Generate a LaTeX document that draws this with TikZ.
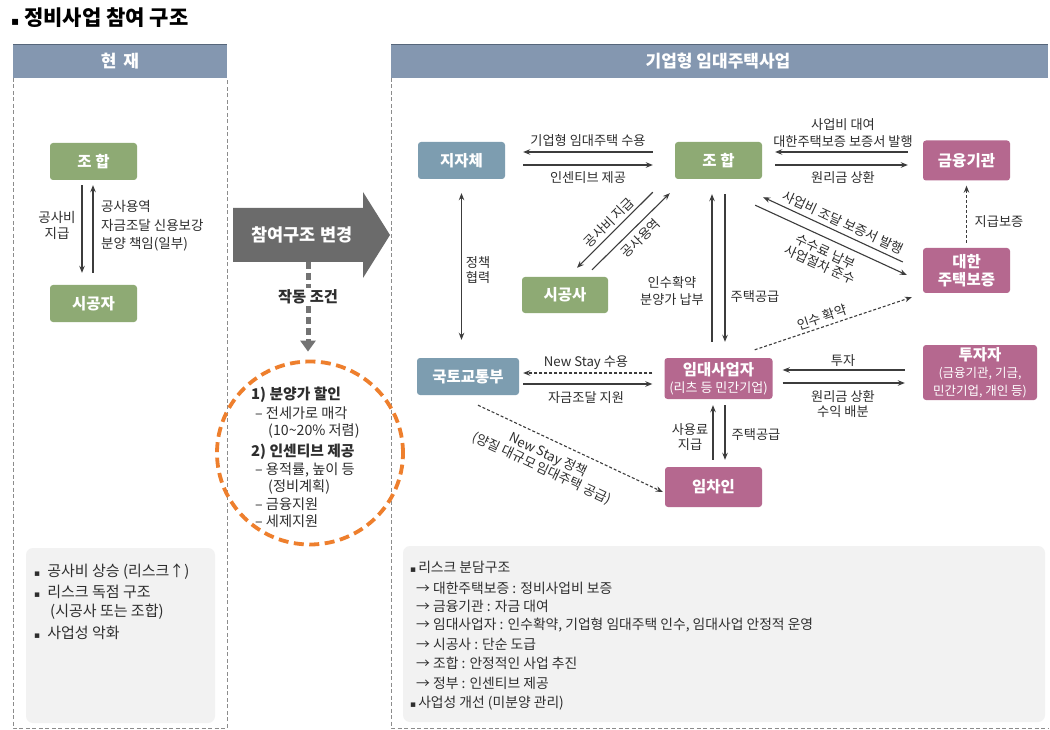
\documentclass[tikz,border=0pt]{standalone}
\usepackage{fontspec}
\setmainfont{Noto Sans CJK KR}
\newfontfamily\dv{DejaVu Sans}
\usetikzlibrary{arrows.meta,calc,shapes.geometric}
\definecolor{hdr}{HTML}{8497B0}
\definecolor{hdrdark}{HTML}{56667A}
\definecolor{grn}{HTML}{8EAA74}
\definecolor{blu}{HTML}{7D9DB0}
\definecolor{pnk}{HTML}{B5688F}
\definecolor{arrc}{HTML}{3C3C3C}
\definecolor{bigarr}{HTML}{6B6B6B}
\definecolor{orng}{HTML}{EE7F2D}
\definecolor{boxbg}{HTML}{F2F2F2}
\definecolor{dashc}{HTML}{8C8C8C}
\definecolor{txt}{HTML}{2E2E2E}
\begin{document}
\begin{tikzpicture}[x=1pt,y=-1pt,
  box/.style={rounded corners=3pt,text=white,font=\fontsize{15.5}{17.5}\selectfont\bfseries,align=center,inner sep=0pt},
  gbox/.style={box,fill=grn},
  bbox/.style={box,fill=blu},
  pbox/.style={box,fill=pnk},
  arr/.style={draw=arrc,line width=1.1pt,-{Stealth[length=7pt,width=5.5pt]}},
  arrboth/.style={draw=arrc,line width=1.1pt,{Stealth[length=7pt,width=5.5pt]}-{Stealth[length=7pt,width=5.5pt]}},
  darr/.style={arr,dash pattern=on 3pt off 2pt},
  lbl/.style={font=\fontsize{13.2}{16}\selectfont,text=txt,inner sep=1.5pt,align=center},
  slbl/.style={lbl,sloped,inner xsep=1pt},
  panel/.style={draw=dashc,line width=0.6pt,dash pattern=on 4pt off 2.5pt},
  ltxt/.style={font=\fontsize{15}{18}\selectfont,text=txt,anchor=west,inner sep=0pt},
  rtxt/.style={font=\fontsize{13.8}{16}\selectfont,text=txt,anchor=west,inner sep=0pt},
  ctxt/.style={font=\fontsize{14.2}{17}\selectfont,text=txt,anchor=west,inner sep=0pt},
  chead/.style={font=\fontsize{14.8}{17}\selectfont\bfseries,text=txt,anchor=west,inner sep=0pt},
]
\useasboundingbox (0,0) rectangle (1050,730);
\fill[white] (0,0) rectangle (1050,730);

% title
\node[anchor=west,font=\fontsize{21}{24}\selectfont\bfseries,inner sep=0pt] (title) at (11,18) {{\dv\fontsize{12}{14}\selectfont ▪}\hspace{5pt}정비사업 참여 구조};

% headers
\fill[hdr] (13,44) rectangle (227,78);
\draw[hdrdark,line width=1.5pt] (13,44.75) -- (227,44.75);
\node[font=\fontsize{17}{19}\selectfont\bfseries,text=white] (hL) at (120,61) {현\hspace{3pt} 재};
\fill[hdr] (391,44) rectangle (1048,78);
\draw[hdrdark,line width=1.5pt] (391,44.75) -- (1048,44.75);
\node[font=\fontsize{17}{19}\selectfont\bfseries,text=white] (hR) at (718,61) {기업형 임대주택사업};

% panels
\draw[panel] (13,78) -- (13,728) -- (227,728) -- (227,78);
\draw[panel] (391,78) -- (391,728) -- (1048,728);

% left panel
\node[gbox,minimum width=87pt,minimum height=37pt] (Ljh) at (93.5,161.5) {조 합};
\node[gbox,minimum width=87pt,minimum height=37pt] (Lsg) at (93.5,303.5) {시공자};
\draw[arr] ([xshift=-11.5pt,yshift=-5pt]Ljh.south) -- ([xshift=-11.5pt,yshift=12pt]Lsg.north);
\draw[arr] ([xshift=-0.5pt,yshift=12pt]Lsg.north) -- ([xshift=-0.5pt,yshift=-5pt]Ljh.south);
\node[lbl,font=\fontsize{13.5}{16}\selectfont] (Ll1) at (57,225) {공사비\\지급};
\node[lbl,font=\fontsize{13.5}{18.5}\selectfont,align=left,anchor=west,inner sep=0pt] (Ll2) at (101,226) {공사용역\\자금조달 신용보강\\분양 책임(일부)};

% big arrow
\fill[bigarr] (233,208) -- (363,208) -- (363,192) -- (390,235) -- (363,278) -- (363,262) -- (233,262) -- cycle;
\node[font=\fontsize{17.5}{20}\selectfont\bfseries,text=white] (chg) at (302,235) {참여구조 변경};
\coordinate (bigbot) at (308,262);

% ring
\node[ellipse,draw=orng,line width=3.8pt,dash pattern=on 10pt off 5.5pt,minimum width=186pt,minimum height=183pt] (ring) at (310,453) {};
\draw[draw=black!55,line width=5pt,dash pattern=on 7pt off 4pt,-{Triangle[length=11pt,width=15pt]}] (bigbot) -- ([yshift=8pt]bigbot |- ring.north);
\node[fill=white,font=\fontsize{15.3}{18}\selectfont\bfseries,text=txt,inner sep=2pt] (cond) at (308,297) {작동 조건};

\node[chead] (c1) at (251,395) {1) 분양가 할인};
\node[ctxt] (c2) at (255,413) {– 전세가로 매각};
\node[ctxt] (c3) at (268,431) {(10\textasciitilde 20\% 저렴)};
\node[chead] (c4) at (251,452) {2) 인센티브 제공};
\node[ctxt] (c5) at (255,470) {– 용적률, 높이 등};
\node[ctxt] (c6) at (268,487) {(정비계획)};
\node[ctxt] (c7) at (255,504) {– 금융지원};
\node[ctxt] (c8) at (255,521) {– 세제지원};

% right nodes
\node[bbox,minimum width=87pt,minimum height=37pt] (jj) at (461.5,160.5) {지자체};
\node[gbox,minimum width=87pt,minimum height=37pt] (jh) at (718.5,160.5) {조 합};
\node[pbox,minimum width=87pt,minimum height=40pt] (gy) at (966.5,160.5) {금융기관};
\node[pbox,minimum width=87pt,minimum height=45pt] (dh) at (966.5,270.5) {대한\\주택보증};
\node[gbox,minimum width=86pt,minimum height=36pt] (sg) at (565,295) {시공사};
\node[bbox,minimum width=102pt,minimum height=37pt] (mt) at (468,376.5) {국토교통부};
\node[pbox,minimum width=108pt,minimum height=41pt] (im) at (718.5,378.5) {임대사업자\\{\fontsize{13}{14}\selectfont\mdseries (리츠 등 민간기업)}};
\node[pbox,minimum width=97pt,minimum height=40pt] (ic) at (713.5,487) {임차인};
\node[pbox,minimum width=114pt,minimum height=55pt] (tj) at (980,372.5) {투자자\\{\fontsize{12.5}{14}\selectfont\mdseries (금융기관, 기금,}\\{\fontsize{12.5}{14}\selectfont\mdseries 민간기업, 개인 등)}};

% 지자체 - 조합
\draw[arr] ([xshift=-22pt,yshift=8.5pt]jh.west) -- ([xshift=18pt,yshift=8.5pt]jj.east);
\draw[arr] ([xshift=18pt,yshift=-4.5pt]jj.east) -- ([xshift=-22pt,yshift=-4.5pt]jh.west);
\node[lbl] (l1) at (588,141) {기업형 임대주택 수용};
\node[lbl] (l2) at (588,178) {인센티브 제공};

% 조합 - 금융기관
\draw[arr] ([xshift=-15pt,yshift=8.5pt]gy.west) -- ([xshift=13pt,yshift=8.5pt]jh.east);
\draw[arr] ([xshift=13pt,yshift=-4.5pt]jh.east) -- ([xshift=-15pt,yshift=-4.5pt]gy.west);
\node[lbl,font=\fontsize{13.2}{17}\selectfont] (l3) at (843,133.5) {사업비 대여\\대한주택보증 보증서 발행};
\node[lbl] (l4) at (843,178) {원리금 상환};

% 조합 - 시공사
\draw[arr] ([xshift=-22pt,yshift=-13pt]jh.south west) -- node[slbl,above,inner ysep=3pt,pos=0.49] (l5) {공사비 지급} ([xshift=12pt,yshift=9pt]sg.north);
\draw[arr] ([xshift=27pt,yshift=7pt]sg.north) -- node[slbl,below,inner ysep=5pt,pos=0.52] (l6) {공사용역} ([xshift=-5pt,yshift=-14pt]jh.south west);

% 조합 - 대한주택보증
\draw[arr] ([xshift=-20pt,yshift=8.5pt]dh.west) -- node[slbl,above,inner ysep=4pt,pos=0.46] (l7) {사업비 조달 보증서 발행} ([xshift=1pt,yshift=-18pt]jh.south east);
\draw[arr] ([xshift=-7pt,yshift=-26pt]jh.south east) -- node[slbl,below,pos=0.5,inner ysep=6pt,font=\fontsize{13.2}{14.5}\selectfont] (l8) {수수료 납부\\사업절차 준수} ([xshift=-16pt,yshift=-4.5pt]dh.west);

% 지급보증
\draw[darr] ([yshift=5pt]dh.north) -- ([yshift=-5pt]gy.south);
\node[lbl] (l9) at (999,222) {지급보증};

% 인수 확약
\draw[darr] ([xshift=-18pt,yshift=8pt]im.north east) -- node[slbl,above,pos=0.447,inner ysep=3pt] (l10) {인수 확약} ([xshift=-11pt,yshift=-4pt]dh.south west);

% 정책 협력
\draw[arrboth] ([yshift=-14pt]jj.south) -- ($(jj.south |- mt.north)+(0,-18)$);
\node[lbl,font=\fontsize{13.2}{15.5}\selectfont] (l11) at (478,270) {정책\\협력};

% 조합 - 임대사업자
\draw[arr] ([xshift=-6.5pt,yshift=16pt]im.north) -- ([xshift=-6.5pt,yshift=-15pt]jh.south);
\draw[arr] ([xshift=6.5pt,yshift=-15pt]jh.south) -- ([xshift=6.5pt,yshift=16pt]im.north);
\node[lbl,font=\fontsize{13.2}{17}\selectfont] (l12) at (672,291) {인수확약\\분양가 납부};
\node[lbl] (l13) at (755,297) {주택공급};

% 국토교통부 - 임대사업자
\draw[darr] ([xshift=-12pt,yshift=5.5pt]im.west) -- ([xshift=4pt,yshift=3.5pt]mt.east);
\draw[arr] ([xshift=4pt,yshift=-7.5pt]mt.east) -- ([xshift=-12pt,yshift=-5.5pt]im.west);
\node[lbl] (l14) at (586,363) {New Stay 수용};
\node[lbl] (l15) at (586,398) {자금조달 지원};

% 투자자 - 임대사업자
\draw[arr] ([xshift=-18pt,yshift=2.5pt]tj.west) -- ([xshift=10pt,yshift=8.5pt]im.east);
\draw[arr] ([xshift=10pt,yshift=-4.5pt]im.east) -- ([xshift=-18pt,yshift=-10.5pt]tj.west);
\node[lbl] (l16) at (843,361) {투자};
\node[lbl,font=\fontsize{13.2}{15}\selectfont] (l17) at (843,404.5) {원리금 상환\\수익 배분};

% 임대사업자 - 임차인
\draw[arr] ([xshift=-0.5pt,yshift=7pt]ic.north) -- ([xshift=-5.5pt,yshift=-6pt]im.south);
\draw[arr] ([xshift=6.5pt,yshift=-6pt]im.south) -- ([xshift=11.5pt,yshift=7pt]ic.north);
\node[lbl,font=\fontsize{13.2}{15}\selectfont] (l18) at (690,437) {사용료\\지급};
\node[lbl] (l19) at (756,435) {주택공급};

% New Stay 정책
\draw[darr] ([xshift=10pt,yshift=-10pt]mt.south) -- node[slbl,below,pos=0.415,inner ysep=8pt,font=\fontsize{13.2}{15}\selectfont] (l20) {New Stay 정책\\(양질 대규모 임대주택 공급)} ([xshift=-2pt,yshift=-5pt]ic.west);

% bottom boxes
\fill[boxbg,rounded corners=7pt] (26,548) rectangle (215,723);
\fill[boxbg,rounded corners=7pt] (403,546) rectangle (1045,722);

\node[ltxt] (b1) at (34,572) {{\dv\fontsize{9}{10}\selectfont ▪}\hspace{7pt}공사비 상승 (리스크↑)};
\node[ltxt] (b2) at (34,592) {{\dv\fontsize{9}{10}\selectfont ▪}\hspace{7pt}리스크 독점 구조};
\node[ltxt] (b3) at (50,612) {(시공사 또는 조합)};
\node[ltxt] (b4) at (34,633) {{\dv\fontsize{9}{10}\selectfont ▪}\hspace{7pt}사업성 악화};

\node[rtxt] (r1) at (410,567) {{\dv\fontsize{9}{10}\selectfont ▪}\hspace{2pt}리스크 분담구조};
\node[rtxt] (r2) at (416,588) {→ 대한주택보증 : 정비사업비 보증};
\node[rtxt] (r3) at (416,606) {→ 금융기관 : 자금 대여};
\node[rtxt] (r4) at (416,625) {→ 임대사업자 : 인수확약, 기업형 임대주택 인수, 임대사업 안정적 운영};
\node[rtxt] (r5) at (416,644) {→ 시공사 : 단순 도급};
\node[rtxt] (r6) at (416,663) {→ 조합 : 안정적인 사업 추진};
\node[rtxt] (r7) at (416,683) {→ 정부 : 인센티브 제공};
\node[rtxt] (r8) at (410,703) {{\dv\fontsize{9}{10}\selectfont ▪}\hspace{2pt}사업성 개선 (미분양 관리)};
\end{tikzpicture}
\end{document}
